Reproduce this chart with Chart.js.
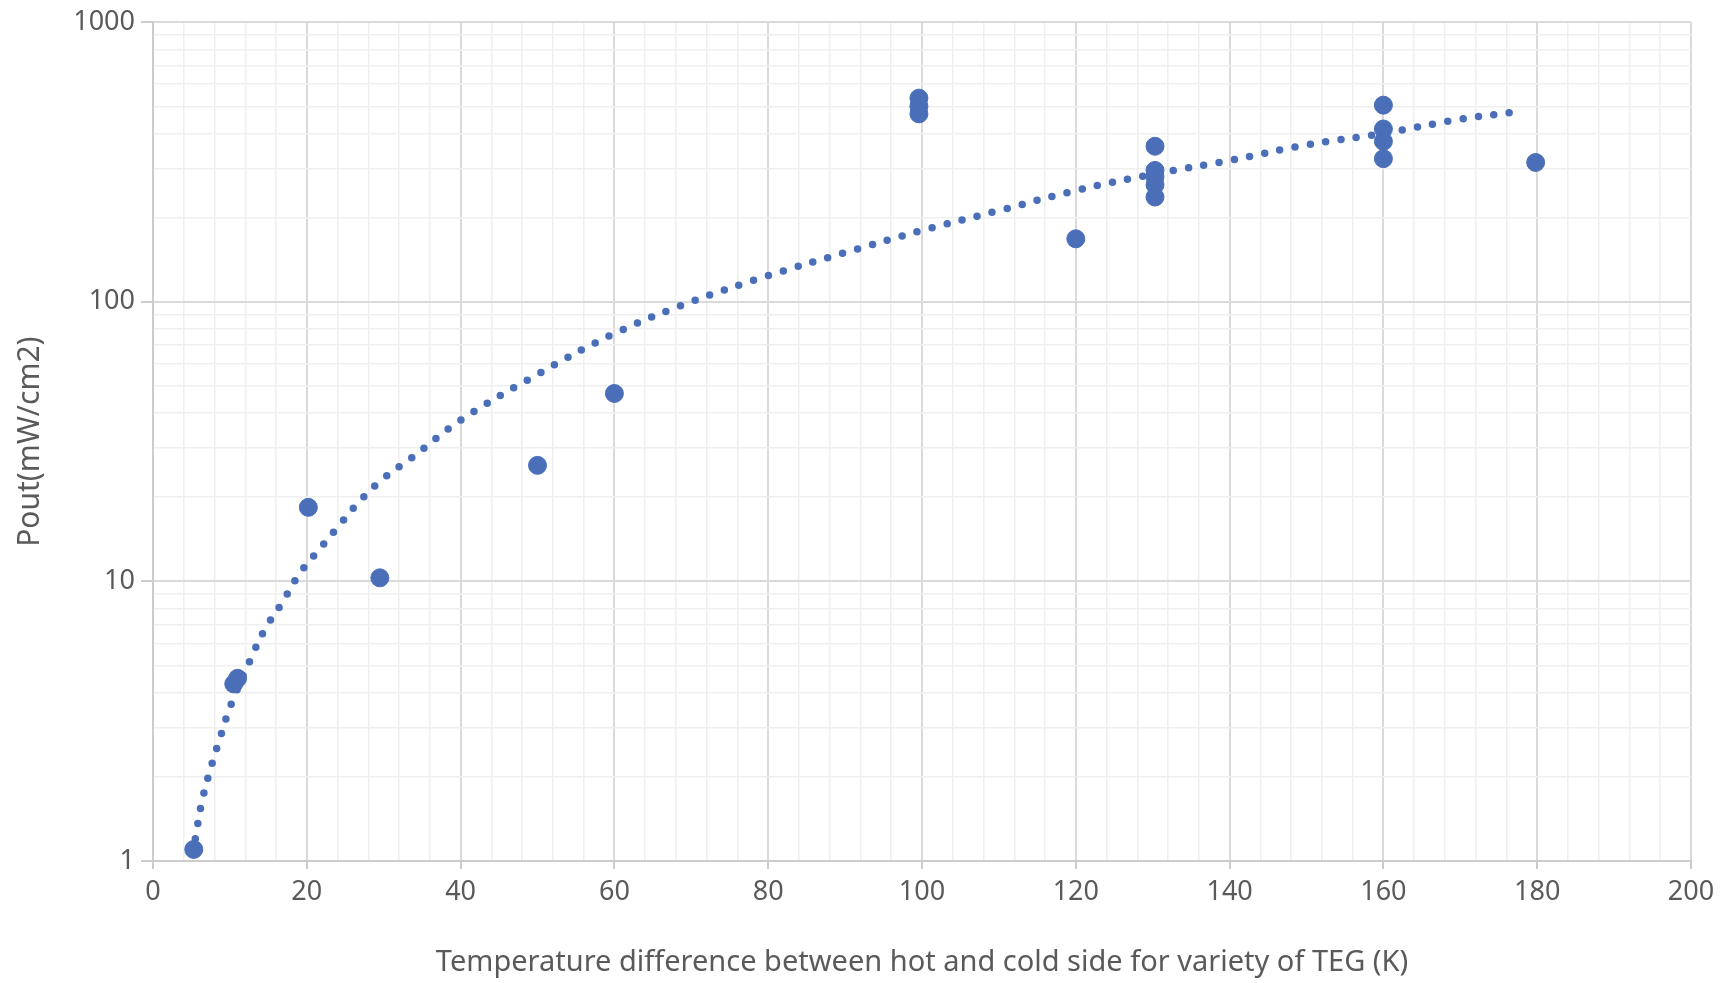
<!DOCTYPE html>
<html lang="en">
<head>
    <meta charset="UTF-8">
    <title>TEG output power vs temperature difference</title>
    <script src="https://cdn.jsdelivr.net/npm/chart.js"></script>
    <style>
        html, body {
            margin: 0;
            padding: 0;
            background: #fff;
        }
        #wrap {
            width: 1727px;
            height: 983px;
        }
    </style>
</head>
<body>
    <div id="wrap"><canvas id="tegChart" width="1727" height="983"></canvas></div>

    <script>
        // measured TEGs: temperature difference (K) and output power (mW/cm2)
        const deltaT = [5.3, 10.5, 11, 20.2, 29.5, 50, 60, 99.6, 99.6, 99.6, 120, 130.3, 130.3, 130.3, 130.3, 130.3, 160, 160, 160, 160, 179.8];
        const pout   = [1.1, 4.3, 4.5, 18.4, 10.3, 26, 47, 535, 500, 470, 168, 360, 295, 280, 262, 237, 505, 415, 375, 325, 315];

        // dotted trend line
        const trendT = [5.5, 6.3, 7.4, 8.8, 10.1, 12.6, 14.5, 16.8, 19, 21.7, 24.4, 27.2, 30.1, 33.5, 40, 50, 60, 70, 80, 90, 100, 110, 120, 130, 140, 150, 160, 170, 178];
        const trendP = [1.2, 1.6, 2.1, 2.8, 3.6, 5.2, 6.7, 8.4, 10.6, 13.1, 16.1, 19.8, 23.5, 27.5, 37.7, 55, 77, 100, 124, 150, 180, 212, 250, 286, 320, 364, 400, 450, 480];

        // axis labels
        const xTickLabels = [0, 20, 40, 60, 80, 100, 120, 140, 160, 180, 200];
        const yTickLabels = [1, 10, 100, 1000];

        const fontFamily = '"Noto Sans", "Open Sans", sans-serif';
        const textGray = '#5a5a5a';
        const axisGray = '#cccccc';
        const majorGrid = '#dadada';
        const minorGrid = '#efefef';
        const blue = '#4a6fb8';
        const clear = 'rgba(0,0,0,0)';

        const isMajorX = v => xTickLabels.includes(v);
        const isMajorY = v => yTickLabels.includes(v);

        const ctx = document.getElementById('tegChart').getContext('2d');
        const tegChart = new Chart(ctx, {
            type: 'scatter',
            data: {
                datasets: [
                    {
                        label: 'Trend',
                        data: trendT.map((t, i) => ({ x: t, y: trendP[i] })),
                        showLine: true,
                        borderColor: blue,
                        borderWidth: 7.5,
                        borderDash: [0, 15.5],
                        borderCapStyle: 'round',
                        pointRadius: 0,
                        pointHoverRadius: 0,
                        tension: 0.4,
                        fill: false,
                        order: 2
                    },
                    {
                        label: 'TEG',
                        data: deltaT.map((t, i) => ({ x: t, y: pout[i] })),
                        backgroundColor: blue,
                        borderColor: blue,
                        pointRadius: 9,
                        pointHoverRadius: 9,
                        order: 1
                    }
                ]
            },
            options: {
                responsive: false,
                animation: false,
                layout: {
                    padding: { top: 18, right: 36, bottom: 0, left: 0 }
                },
                plugins: {
                    legend: { display: false },
                    tooltip: { enabled: false }
                },
                scales: {
                    x: {
                        type: 'linear',
                        min: 0,
                        max: 200,
                        afterFit: scale => { scale.height = 122; },
                        ticks: {
                            stepSize: 4,
                            autoSkip: false,
                            maxRotation: 0,
                            padding: 7,
                            color: textGray,
                            font: { family: fontFamily, size: 27 },
                            callback: v => isMajorX(v) ? String(v) : ''
                        },
                        grid: {
                            color: c => c.tick && isMajorX(c.tick.value) ? majorGrid : minorGrid,
                            lineWidth: c => c.tick && isMajorX(c.tick.value) ? 2 : 1.5,
                            tickLength: 8,
                            tickColor: c => c.tick && isMajorX(c.tick.value) ? axisGray : clear,
                            tickWidth: 2
                        },
                        border: { color: axisGray, width: 2 },
                        title: {
                            display: true,
                            text: 'Temperature difference between hot and cold side for variety of TEG (K)',
                            color: textGray,
                            font: { family: fontFamily, size: 29 },
                            padding: { top: 0, bottom: 3 }
                        }
                    },
                    y: {
                        type: 'logarithmic',
                        min: 1,
                        max: 1000,
                        afterFit: scale => { scale.width = 153; },
                        afterBuildTicks: scale => {
                            // 1..9 in every decade, labels only on the powers of ten
                            const ticks = [];
                            for (let d = 1; d < 1000; d *= 10) {
                                for (let s = 1; s < 10; s++) ticks.push({ value: s * d });
                            }
                            ticks.push({ value: 1000 });
                            scale.ticks = ticks;
                        },
                        ticks: {
                            autoSkip: false,
                            padding: 6,
                            color: textGray,
                            font: { family: fontFamily, size: 27 },
                            callback: v => isMajorY(v) ? String(v) : ''
                        },
                        grid: {
                            color: c => c.tick && isMajorY(c.tick.value) ? majorGrid : minorGrid,
                            lineWidth: c => c.tick && isMajorY(c.tick.value) ? 2 : 1.5,
                            tickLength: 12,
                            tickColor: c => c.tick && isMajorY(c.tick.value) ? axisGray : clear,
                            tickWidth: 2
                        },
                        border: { color: axisGray, width: 2 },
                        title: {
                            display: true,
                            text: 'Pout(mW/cm2)',
                            color: textGray,
                            font: { family: fontFamily, size: 30 },
                            padding: { top: 12, bottom: 0 }
                        }
                    }
                }
            }
        });
    </script>
</body>
</html>
